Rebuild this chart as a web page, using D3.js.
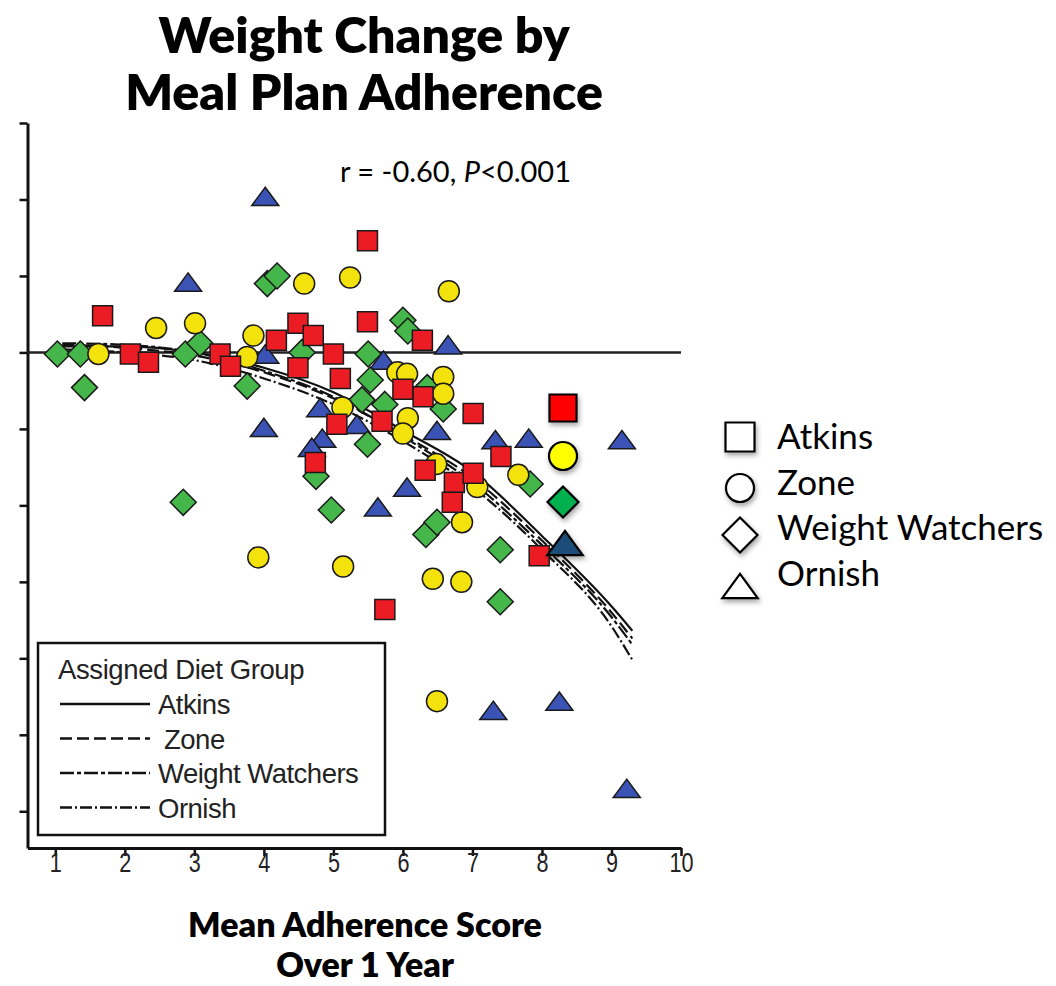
<!DOCTYPE html>
<html>
<head>
<meta charset="utf-8">
<title>Weight Change by Meal Plan Adherence</title>
<script src="https://d3js.org/d3.v7.min.js"></script>
<style>
  body { margin: 0; background: #fff; }
</style>
</head>
<body>
<div id="chart"></div>
<script>
// diet groups and axis ticks
const groups = ["Atkins", "Zone", "Weight Watchers", "Ornish"];
const xTicks = [1, 2, 3, 4, 5, 6, 7, 8, 9, 10];
const yTicks = [15, 10, 5, 0, -5, -10, -15, -20, -25, -30];

// individual participants: adherence score (x), weight change kg (y)
const atkinsX = [1.68, 2.08, 2.34, 3.37, 3.52, 4.18, 4.49, 4.71, 5.0, 4.49, 5.49, 5.49, 6.28, 5.1, 6.0, 6.29, 7.01, 5.7, 5.05, 4.74, 7.41, 6.32, 6.74, 7.01, 6.71, 7.96, 5.74];
const atkinsY = [2.4, -0.1, -0.65, -0.1, -0.9, 0.8, 1.9, 1.1, -0.1, -1.0, 7.3, 2.0, 0.8, -1.7, -2.4, -2.9, -4.0, -4.5, -4.7, -7.2, -6.8, -7.7, -8.5, -7.9, -9.8, -13.3, -16.8];

const zoneX = [1.62, 2.45, 3.01, 3.85, 3.76, 4.58, 5.24, 6.66, 5.92, 6.06, 6.58, 6.58, 5.13, 6.07, 6.0, 6.48, 7.07, 7.66, 6.85, 3.92, 5.14, 6.43, 6.84, 6.49];
const zoneY = [-0.1, 1.6, 1.9, 1.1, -0.3, 4.5, 4.9, 4.0, -1.3, -1.4, -1.6, -2.7, -3.6, -4.3, -5.3, -7.3, -8.8, -8.0, -11.1, -13.4, -14.0, -14.8, -15.0, -22.8];

const wwX = [1.03, 1.36, 1.42, 2.87, 3.08, 4.05, 4.19, 3.76, 4.55, 5.5, 6.0, 6.07, 5.53, 5.41, 5.74, 6.35, 6.58, 5.49, 4.75, 4.97, 2.84, 6.33, 6.49, 7.83, 7.4, 7.4];
const wwY = [-0.1, -0.1, -2.3, -0.1, 0.6, 4.5, 5.0, -2.2, 0.0, -0.1, 2.1, 1.4, -1.8, -3.1, -3.4, -2.3, -3.7, -6.0, -8.1, -10.3, -9.8, -11.9, -11.1, -8.6, -12.9, -16.3];

const ornishX = [4.02, 2.91, 4.02, 4.0, 4.81, 4.84, 4.69, 5.34, 5.72, 6.65, 6.49, 7.33, 7.81, 9.15, 6.06, 5.64, 7.3, 8.25, 9.22];
const ornishY = [10.2, 4.6, -0.1, -4.9, -3.6, -5.6, -6.2, -4.7, -0.5, 0.5, -5.1, -5.7, -5.6, -5.7, -8.8, -10.1, -23.4, -22.8, -28.5];

// fitted curves
const fitX = [1.1, 2, 3, 4, 5, 6, 7, 8, 9, 9.3];
const atkinsFit = [0.4, 0.4, 0.0, -1.0, -2.6, -5.1, -7.8, -12.0, -16.6, -18.2];
const zoneFit = [0.5, 0.3, -0.2, -1.3, -3.0, -5.4, -8.2, -12.3, -17.0, -18.7];
const wwFit = [0.6, 0.5, 0.0, -1.2, -2.9, -5.5, -8.5, -12.6, -17.3, -19.1];
const ornishFit = [0.2, 0.0, -0.5, -1.7, -3.4, -5.8, -8.8, -12.9, -17.9, -20.1];

const W = 1056, H = 986;
const inner = '"Liberation Sans", Arial, sans-serif';
const outer = 'Lato, "Open Sans", sans-serif';

const svg = d3.select("#chart")
  .append("svg")
    .attr("width", W)
    .attr("height", H);

const defs = svg.append("defs");
defs.append("filter").attr("id", "shadow")
    .attr("x", "-40%").attr("y", "-40%").attr("width", "180%").attr("height", "180%")
  .append("feDropShadow")
    .attr("dx", 1.5).attr("dy", 3).attr("stdDeviation", 2.5)
    .attr("flood-color", "#000").attr("flood-opacity", 0.35);

const x = d3.scaleLinear().domain([0.6, 10]).range([27.5, 681]);
const y = d3.scaleLinear().domain([-32.4, 15]).range([848, 123]);

// custom symbol shapes
const diamond = {
  draw(ctx, size) {
    const d = Math.sqrt(size) / 2;
    ctx.moveTo(0, -d); ctx.lineTo(d, 0); ctx.lineTo(0, d); ctx.lineTo(-d, 0); ctx.closePath();
  }
};
const triangle = {
  draw(ctx, size) {
    const w = Math.sqrt(size) / 2, h = w * 0.68;
    ctx.moveTo(0, -h); ctx.lineTo(w, h); ctx.lineTo(-w, h); ctx.closePath();
  }
};

// axes
const xAxis = svg.append("g")
    .attr("transform", `translate(0,${y.range()[0]})`)
    .call(d3.axisBottom(x).tickValues(xTicks).tickSize(8).tickSizeOuter(0).tickPadding(-3));
const yAxis = svg.append("g")
    .attr("transform", `translate(${x.range()[0]},0)`)
    .call(d3.axisLeft(y).tickValues(yTicks).tickFormat("").tickSize(8).tickSizeOuter(0));
[xAxis, yAxis].forEach(g => {
  g.select(".domain").attr("stroke", "#111").attr("stroke-width", 3);
  g.selectAll(".tick line").attr("stroke", "#111").attr("stroke-width", 2.5);
});
xAxis.selectAll(".tick text")
    .attr("font-family", inner).attr("font-size", 27).attr("fill", "#222")
    .attr("transform", "scale(0.8,1)");

// zero reference line
svg.append("line")
    .attr("x1", x.range()[0]).attr("x2", x.range()[1])
    .attr("y1", y(0)).attr("y2", y(0))
    .attr("stroke", "#222").attr("stroke-width", 2.5);

// fitted curves
const fits = [
  { vals: atkinsFit, dash: null },
  { vals: zoneFit, dash: "12,5" },
  { vals: wwFit, dash: "14,3,4,3" },
  { vals: ornishFit, dash: "12,3,2,3" }
];
const line = d3.line().curve(d3.curveMonotoneX);
svg.append("g").selectAll("path")
  .data(fits)
  .join("path")
    .attr("d", f => line(fitX.map((v, i) => [x(v), y(f.vals[i])])))
    .attr("fill", "none")
    .attr("stroke", "#111")
    .attr("stroke-width", 2.2)
    .attr("stroke-dasharray", f => f.dash);

// scatter points
const series = [
  { xs: ornishX, ys: ornishY, type: triangle, size: 27 * 27, color: "#3A53B4" },
  { xs: wwX, ys: wwY, type: diamond, size: 26 * 26, color: "#45B649" },
  { xs: zoneX, ys: zoneY, type: d3.symbolCircle, size: Math.PI * 10.5 * 10.5, color: "#F4E20C" },
  { xs: atkinsX, ys: atkinsY, type: d3.symbolSquare, size: 20 * 20, color: "#EC1C24" }
];
series.forEach(s => {
  const sym = d3.symbol().type(s.type).size(s.size);
  svg.append("g").selectAll("path")
    .data(s.xs.map((v, i) => [v, s.ys[i]]))
    .join("path")
      .attr("transform", d => `translate(${x(d[0])},${y(d[1])})`)
      .attr("d", sym)
      .attr("fill", s.color)
      .attr("stroke", "#1a1a1a")
      .attr("stroke-width", 1.5);
});

// legend box inside plot
const lg = svg.append("g").attr("font-family", inner).attr("fill", "#222");
lg.append("rect")
    .attr("x", 38).attr("y", 643).attr("width", 347).attr("height", 192)
    .attr("fill", "#fff").attr("stroke", "#111").attr("stroke-width", 2.5);
lg.append("text").attr("x", 58).attr("y", 679).attr("font-size", 27.5)
    .attr("letter-spacing", -0.4).text("Assigned Diet Group");
fits.forEach((f, i) => {
  const yy = 704 + i * 34.5;
  lg.append("line").attr("x1", 60).attr("x2", 150).attr("y1", yy).attr("y2", yy)
      .attr("stroke", "#111").attr("stroke-width", 2.5).attr("stroke-dasharray", f.dash);
  lg.append("text").attr("x", i === 1 ? 164 : 158).attr("y", yy + 10).attr("font-size", 27.5)
      .attr("letter-spacing", -0.5).text(groups[i]);
});

// title
svg.append("text")
    .attr("text-anchor", "middle")
    .attr("font-family", outer).attr("font-weight", 800).attr("font-size", 50)
  .selectAll("tspan")
  .data(["Weight Change by", "Meal Plan Adherence"])
  .join("tspan")
    .attr("x", 364)
    .attr("y", (d, i) => 53 + i * 57)
    .text(d => d);

// correlation note
const note = svg.append("text")
    .attr("x", 340).attr("y", 182)
    .attr("font-family", outer).attr("font-size", 29).attr("fill", "#000");
note.append("tspan").text("r = -0.60, ");
note.append("tspan").attr("font-style", "italic").text("P");
note.append("tspan").text("<0.001");

// x-axis title
svg.append("text")
    .attr("text-anchor", "middle")
    .attr("font-family", outer).attr("font-weight", 800).attr("font-size", 34)
  .selectAll("tspan")
  .data(["Mean Adherence Score", "Over 1 Year"])
  .join("tspan")
    .attr("x", 365)
    .attr("y", (d, i) => 937 + i * 40)
    .text(d => d);

// coloured key markers
const keyTypes = [d3.symbolSquare, d3.symbolCircle, diamond, triangle];
const keyColors = ["#FF0000", "#FFFF00", "#00B050", "#1F4E79"];
const keySizes = [27 * 27, Math.PI * 14 * 14, 31 * 31, 30 * 30 * 1.4];
const keyY = [408, 456, 502, 543];
svg.append("g").selectAll("path")
  .data(groups)
  .join("path")
    .attr("transform", (d, i) => `translate(${i === 3 ? 565 : 563},${keyY[i]})`)
    .attr("d", (d, i) => d3.symbol().type(keyTypes[i]).size(keySizes[i])())
    .attr("fill", (d, i) => keyColors[i])
    .attr("stroke", "#000")
    .attr("stroke-width", 2.2)
    .attr("filter", "url(#shadow)");

// outline legend
const outY = [437, 488, 535, 586];
const outSizes = [29 * 29, Math.PI * 14 * 14, 35 * 35, 33 * 33 * 1.15];
const ol = svg.append("g");
ol.selectAll("path")
  .data(groups)
  .join("path")
    .attr("transform", (d, i) => `translate(740,${outY[i]})`)
    .attr("d", (d, i) => d3.symbol().type(keyTypes[i]).size(outSizes[i])())
    .attr("fill", "#fff")
    .attr("stroke", "#000")
    .attr("stroke-width", 2.2)
    .attr("filter", "url(#shadow)");
ol.selectAll("text")
  .data(groups)
  .join("text")
    .attr("x", 777)
    .attr("y", (d, i) => 449 + i * 45.5)
    .attr("font-family", outer).attr("font-size", 35)
    .text(d => d);
</script>
</body>
</html>
